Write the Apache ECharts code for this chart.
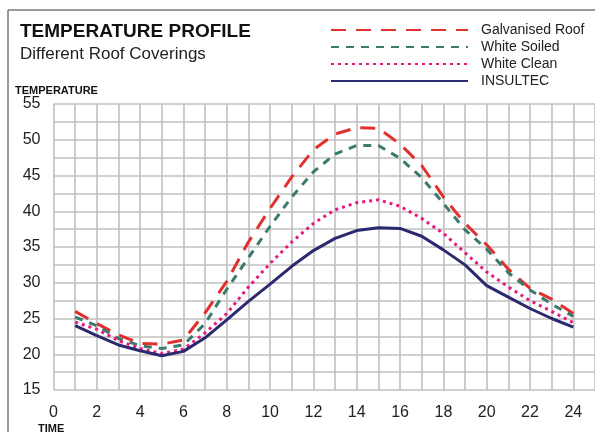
<!DOCTYPE html>
<html>
<head>
<meta charset="utf-8">
<title>Temperature Profile</title>
<script src="https://cdn.jsdelivr.net/npm/echarts@6/dist/echarts.min.js"></script>
<style>
  html, body { margin: 0; padding: 0; background: #fff; }
  #chart { width: 595px; height: 432px; }
</style>
</head>
<body>
<div id="chart"></div>
<script>
  // hour of the day for every reading
  var hours = [1, 2, 3, 4, 5, 6, 7, 8, 9, 10, 11, 12, 13, 14, 15, 16, 17, 18, 19, 20, 21, 22, 23, 24];

  // temperatures
  var galvanised = [26.0, 24.3, 22.7, 21.5, 21.4, 22.0, 25.8, 30.2, 35.7, 40.4, 44.8, 48.6, 50.8, 51.7, 51.6, 49.4, 46.4, 42.0, 38.3, 35.3, 31.9, 29.2, 27.7, 25.7];
  var whiteSoiled = [25.2, 24.0, 22.2, 21.2, 20.8, 21.3, 24.3, 29.1, 33.5, 37.9, 42.0, 45.5, 48.0, 49.2, 49.2, 47.4, 44.7, 41.1, 37.4, 34.7, 31.4, 29.0, 27.0, 25.3];
  var whiteClean = [24.5, 23.5, 21.9, 20.8, 20.1, 20.7, 23.0, 25.7, 29.4, 32.7, 35.7, 38.3, 40.2, 41.2, 41.6, 40.7, 39.0, 36.9, 34.2, 31.5, 29.4, 27.5, 26.0, 24.4];
  var insultec = [24.0, 22.6, 21.3, 20.5, 19.8, 20.4, 22.3, 24.8, 27.4, 29.8, 32.3, 34.5, 36.2, 37.3, 37.7, 37.6, 36.5, 34.6, 32.5, 29.6, 28.0, 26.4, 25.0, 23.8];

  var seriesNames = ['Galvanised Roof', 'White Soiled', 'White Clean', 'INSULTEC'];

  // labelled ticks
  var xTicks = [0, 2, 4, 6, 8, 10, 12, 14, 16, 18, 20, 22, 24];
  var yTicks = [15, 20, 25, 30, 35, 40, 45, 50, 55];

  function pairs(values) {
    return hours.map(function (h, i) { return [h, values[i]]; });
  }

  var font = 'Arial, "Liberation Sans", sans-serif';
  var gridColor = '#c0c0c0';

  var myChart = echarts.init(document.getElementById('chart'), null, {renderer: 'canvas'});

  var option = {
    backgroundColor: '#fff',
    animation: false,
    title: {
      text: 'TEMPERATURE PROFILE',
      subtext: 'Different Roof Coverings',
      left: 15,
      top: 17,
      itemGap: 5,
      textStyle: {fontFamily: font, fontSize: 19, fontWeight: 900, color: '#111'},
      subtextStyle: {fontFamily: font, fontSize: 17, color: '#222'}
    },
    legend: {
      data: seriesNames,
      orient: 'vertical',
      left: 330,
      top: 23,
      itemWidth: 137,
      itemHeight: 10,
      itemGap: 3,
      padding: 0,
      // only the line sample, no marker
      itemStyle: {opacity: 0},
      textStyle: {fontFamily: font, fontSize: 14, color: '#222', padding: [0, 0, 0, 8]}
    },
    graphic: [
      // frame round the figure
      {type: 'line', shape: {x1: 8, y1: 10, x2: 595, y2: 10}, style: {stroke: '#777', lineWidth: 1.5}},
      {type: 'line', shape: {x1: 8, y1: 10, x2: 8, y2: 432}, style: {stroke: '#777', lineWidth: 1.5}},
      {type: 'text', left: 15, top: 85, style: {text: 'TEMPERATURE', fontFamily: font, fontSize: 11, fontWeight: 900, fill: '#111'}},
      {type: 'text', left: 38, top: 423, style: {text: 'TIME', fontFamily: font, fontSize: 11, fontWeight: 900, fill: '#111'}}
    ],
    grid: {
      left: 53.5,
      top: 104,
      width: 543.3,
      height: 286,
      containLabel: false
    },
    xAxis: {
      type: 'value',
      min: 0,
      max: 25,
      interval: 1,
      axisLine: {show: false},
      axisTick: {show: false},
      axisLabel: {
        margin: 15,
        fontFamily: font,
        fontSize: 16,
        color: '#222',
        showMaxLabel: false,
        formatter: function (v) { return xTicks.indexOf(v) >= 0 ? String(v) : ''; }
      },
      splitLine: {show: true, lineStyle: {color: gridColor, width: 1.6}}
    },
    yAxis: {
      type: 'value',
      min: 15,
      max: 55,
      interval: 2.5,
      axisLine: {show: false},
      axisTick: {show: false},
      axisLabel: {
        margin: 13,
        fontFamily: font,
        fontSize: 16,
        color: '#222',
        formatter: function (v) { return yTicks.indexOf(v) >= 0 ? String(v) : ''; }
      },
      splitLine: {show: true, lineStyle: {color: gridColor, width: 1.6}}
    },
    series: [
      {
        name: seriesNames[0],
        type: 'line',
        symbol: 'none',
        data: pairs(galvanised),
        lineStyle: {color: '#e2312d', width: 3, type: [15, 10]},
        itemStyle: {color: '#e2312d'}
      },
      {
        name: seriesNames[1],
        type: 'line',
        symbol: 'none',
        data: pairs(whiteSoiled),
        lineStyle: {color: '#3b7a6d', width: 3, type: [8, 7]},
        itemStyle: {color: '#3b7a6d'}
      },
      {
        name: seriesNames[2],
        type: 'line',
        symbol: 'none',
        data: pairs(whiteClean),
        lineStyle: {color: '#e8187e', width: 3, type: [3, 4]},
        itemStyle: {color: '#e8187e'}
      },
      {
        name: seriesNames[3],
        type: 'line',
        symbol: 'none',
        data: pairs(insultec),
        lineStyle: {color: '#2b2a6f', width: 3},
        itemStyle: {color: '#2b2a6f'}
      }
    ]
  };

  myChart.setOption(option);
</script>
</body>
</html>
